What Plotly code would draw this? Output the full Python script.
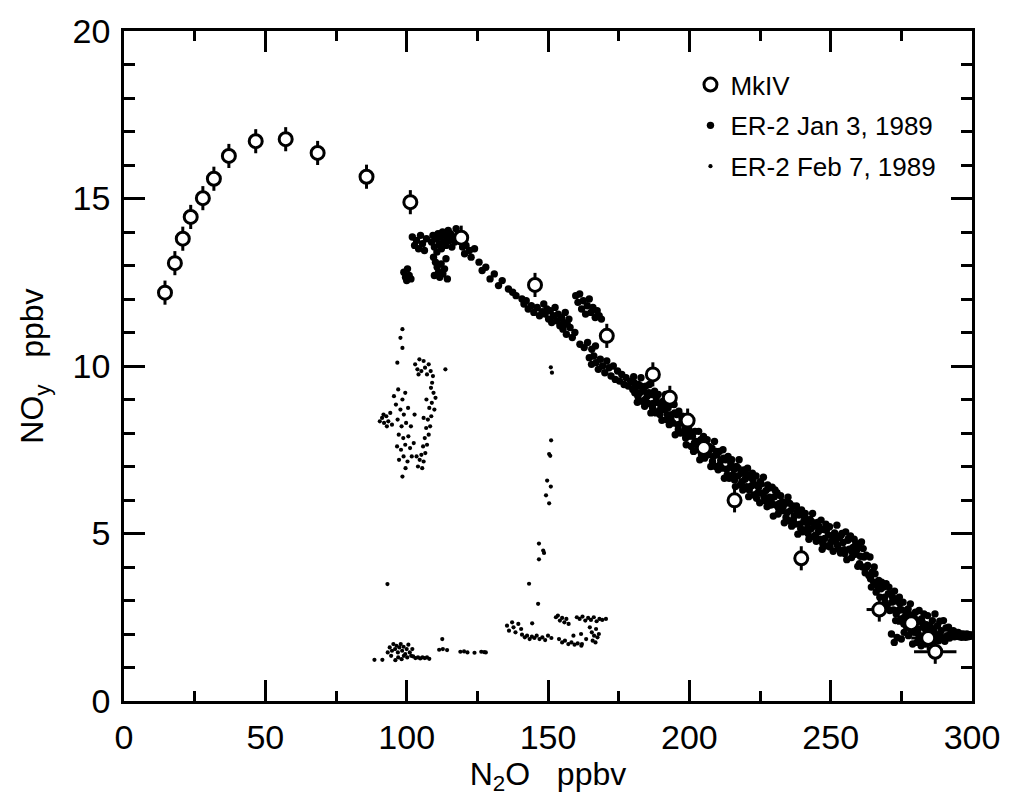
import plotly.graph_objects as go

# ---------------- data ----------------
mkiv_n2o = [14.5, 18.0, 20.8, 23.6, 27.9, 31.8, 37.1, 46.6, 57.2, 68.5, 85.8, 101.3,
            119.3, 145.4, 170.8, 187.1, 193.1, 199.4, 205.1, 216.0, 239.6, 267.2,
            278.5, 284.5, 287.0]
mkiv_noy = [12.19, 13.07, 13.80, 14.45, 15.01, 15.59, 16.27, 16.71, 16.77, 16.36,
            15.65, 14.89, 13.83, 12.42, 10.90, 9.75, 9.05, 8.37, 7.55, 5.99, 4.26,
            2.73, 2.32, 1.88, 1.47]
mkiv_noy_err = [0.36] * 25
mkiv_n2o_err = [0] * 21 + [4.5, 5.0, 6.0, 7.5]

jan3_points = [
    # cluster near 100
    [99.0, 12.8], [99.6, 12.65], [100.3, 12.9], [100.9, 12.7], [101.5, 12.6], [100.0, 12.55],
    # upper cluster 102-121
    [102.0, 13.85], [102.8, 13.6], [103.5, 13.75], [104.2, 13.5], [104.9, 13.9], [105.6, 13.65],
    [106.3, 13.45], [107.0, 13.8], [108.8, 13.7], [109.3, 13.9], [109.8, 13.55], [110.3, 13.8],
    [110.7, 13.4], [111.1, 13.95], [111.5, 13.65], [111.9, 13.85], [112.3, 13.5], [112.7, 14.0],
    [113.1, 13.7], [113.5, 13.9], [113.9, 13.6], [114.3, 13.8], [114.7, 14.05], [115.1, 13.75],
    [115.5, 13.95], [116.0, 13.55], [116.5, 13.85], [117.0, 13.7], [117.5, 14.1], [118.2, 13.95],
    [119.8, 13.55], [120.5, 13.35],
    [109.5, 13.25], [110.2, 13.1], [110.8, 12.95], [111.3, 12.8], [111.7, 12.65], [112.2, 13.05],
    [112.8, 12.75], [113.4, 12.9], [113.9, 13.2], [114.4, 12.6], [109.8, 12.7],
    # 120-140
    [121.0, 13.6], [122.2, 13.45], [122.8, 13.25], [124.0, 13.5], [125.6, 13.1],
    [126.7, 12.85], [128.0, 12.95], [129.5, 12.6], [131.0, 12.75], [132.5, 12.4], [133.8, 12.55],
    [136.0, 12.3], [137.5, 12.2], [138.7, 12.1],
    # 140-170
    [140.8, 12.0], [141.5, 11.85], [142.3, 11.95], [143.0, 11.7], [144.1, 11.8], [145.0, 11.6],
    [146.2, 11.75], [147.0, 11.5], [147.9, 11.62],
    [148.5, 11.85], [149.0, 11.55], [149.6, 11.7], [150.2, 11.4], [150.8, 11.65], [151.3, 11.3],
    [151.9, 11.5], [152.5, 11.75], [153.1, 11.35], [153.6, 11.55], [154.2, 11.2], [154.8, 11.45],
    [155.5, 11.3], [156.1, 11.6], [156.8, 11.25], [157.4, 11.4],
    [159.8, 12.1], [160.6, 11.9], [161.2, 12.15], [161.9, 11.7], [162.5, 11.95], [163.3, 11.55],
    [163.9, 11.8], [164.6, 12.0], [165.2, 11.6], [165.9, 11.75], [166.7, 11.45], [167.4, 11.65],
    [168.1, 11.5], [168.9, 11.4],
    [155.3, 11.1], [156.5, 10.95], [157.8, 11.15], [158.6, 10.85], [159.5, 11.0],
    [161.3, 10.65], [162.8, 10.55], [164.0, 10.7], [165.5, 10.5], [166.8, 10.6],
    [164.6, 10.25], [165.4, 10.05], [166.2, 10.3], [167.0, 10.1], [167.8, 9.9], [168.5, 10.2],
    [169.3, 10.0], [170.1, 9.8], [170.8, 10.15], [171.6, 9.95], [172.3, 9.7], [173.1, 10.0],
    [173.8, 9.6], [174.6, 9.85], [175.3, 9.55], [176.1, 9.75], [176.9, 9.45], [177.6, 9.65],
    [178.4, 9.4], [179.2, 9.55], [180.0, 9.3], [180.9, 9.45],
    # main band 180-300
    [180.3, 9.68], [180.7, 9.2], [181.2, 9.38], [181.6, 8.92], [182.0, 9.45], [182.5, 9.2],
    [182.9, 9.65], [183.3, 8.95], [183.8, 9.25], [184.2, 8.8], [184.6, 9.4], [185.1, 9.1],
    [185.5, 8.88], [185.9, 9.45], [186.4, 8.6], [186.8, 9.15], [187.2, 8.88], [187.7, 9.25],
    [188.1, 8.6], [188.5, 8.92], [189.0, 9.15], [189.4, 8.67], [189.8, 8.85], [190.3, 8.38],
    [190.7, 8.95], [191.1, 8.7], [191.6, 9.15], [192.0, 8.4], [192.4, 8.75], [192.9, 8.25],
    [193.3, 8.85], [193.7, 8.55], [194.2, 8.3], [194.6, 8.85], [195.0, 7.95], [195.5, 8.55],
    [195.9, 8.25], [196.3, 8.65], [196.8, 8.0], [197.2, 8.3], [197.6, 8.5], [198.1, 8.0],
    [198.5, 8.15], [198.9, 7.65], [199.4, 8.2], [199.8, 7.9], [200.2, 8.3], [200.7, 7.6],
    [201.1, 7.9], [201.5, 7.45], [202.0, 8.05], [202.4, 7.75], [202.8, 7.5], [203.3, 8.05],
    [203.7, 7.2], [204.1, 7.8], [204.6, 7.5], [205.0, 7.9], [205.4, 7.25], [205.9, 7.55],
    [206.3, 7.8], [206.7, 7.35], [207.2, 7.5], [207.6, 7.0], [208.0, 7.55], [208.5, 7.3],
    [208.9, 7.75], [209.3, 7.0], [209.8, 7.35], [210.2, 6.9], [210.6, 7.45], [211.1, 7.18],
    [211.5, 6.95], [211.9, 7.5], [212.4, 6.65], [212.8, 7.2], [213.2, 6.92], [213.7, 7.3],
    [214.1, 6.65], [214.5, 6.98], [215.0, 7.2], [215.4, 6.75], [215.8, 6.92], [216.3, 6.4],
    [216.7, 7.0], [217.1, 6.72], [217.6, 7.2], [218.0, 6.45], [218.4, 6.8], [218.9, 6.3],
    [219.3, 6.9], [219.7, 6.62], [220.2, 6.4], [220.6, 6.95], [221.0, 6.1], [221.5, 6.68],
    [221.9, 6.42], [222.3, 6.8], [222.8, 6.15], [223.2, 6.45], [223.6, 6.72], [224.1, 6.2],
    [224.5, 6.38], [224.9, 5.92], [225.4, 6.48], [225.8, 6.2], [226.2, 6.68], [226.7, 5.98],
    [227.1, 6.28], [227.5, 5.8], [228.0, 6.35], [228.4, 6.08], [228.8, 5.85], [229.3, 6.38],
    [229.7, 5.52], [230.1, 6.1], [230.6, 5.85], [231.0, 6.22], [231.4, 5.58], [231.9, 5.9],
    [232.3, 6.13], [232.7, 5.68], [233.2, 5.8], [233.6, 5.32], [234.0, 5.9], [234.5, 5.62],
    [234.9, 6.08], [235.3, 5.38], [235.8, 5.68], [236.2, 5.22], [236.6, 5.82], [237.1, 5.52],
    [237.5, 5.28], [237.9, 5.82], [238.4, 4.98], [238.8, 5.55], [239.2, 5.28], [239.7, 5.7],
    [240.1, 5.05], [240.5, 5.36], [241.0, 5.6], [241.4, 5.12], [241.8, 5.3], [242.3, 4.83],
    [242.7, 5.42], [243.1, 5.14], [243.6, 5.6], [244.0, 4.9], [244.4, 5.22], [244.9, 4.77],
    [245.3, 5.33], [245.7, 5.06], [246.2, 4.83], [246.6, 5.4], [247.0, 4.53], [247.5, 5.12],
    [247.9, 4.85], [248.3, 5.28], [248.8, 4.63], [249.2, 4.95], [249.6, 5.2], [250.1, 4.75],
    [250.5, 4.93], [250.9, 4.47], [251.4, 5.02], [251.8, 4.76], [252.2, 5.25], [252.7, 4.55],
    [253.1, 4.88], [253.5, 4.42], [254.0, 5.0], [254.4, 4.73], [254.8, 4.52], [255.3, 5.05],
    [255.7, 4.22], [256.1, 4.8], [256.6, 4.53], [257.0, 4.93], [257.4, 4.28], [257.9, 4.58],
    [258.3, 4.83], [258.7, 4.38], [259.2, 4.5], [259.6, 4.02], [260.0, 4.6], [260.5, 4.32],
    [260.9, 4.75], [261.3, 4.0], [261.8, 4.3], [262.2, 3.83], [262.6, 4.35], [263.1, 4.05],
    [263.5, 3.75], [263.9, 4.3], [264.4, 3.4], [264.8, 3.85], [265.2, 3.55], [265.7, 3.8],
    [266.1, 3.25], [266.5, 3.5], [267.0, 3.6], [267.4, 3.1], [267.8, 3.35], [268.3, 2.85],
    [268.7, 3.4], [269.1, 3.1], [269.6, 3.5], [270.0, 2.85], [270.4, 3.2], [270.9, 2.7],
    [271.3, 3.2], [271.7, 2.95], [272.2, 2.72], [272.6, 3.28], [273.0, 2.4], [273.5, 2.98],
    [273.9, 2.7], [274.3, 3.1], [274.8, 2.45], [275.2, 2.72], [275.6, 2.95], [276.1, 2.5],
    [276.5, 2.68], [276.9, 2.2], [277.4, 2.75], [277.8, 2.45], [278.2, 2.9], [278.7, 2.22],
    [279.1, 2.55], [279.5, 2.05], [280.0, 2.65], [280.4, 2.38], [280.8, 2.15], [281.3, 2.7],
    [281.7, 1.85], [282.1, 2.45], [282.6, 2.2], [283.0, 2.6], [283.4, 1.95], [283.9, 2.28],
    [284.3, 2.55], [284.7, 2.1], [285.2, 2.25], [285.6, 1.8], [286.0, 2.4], [286.5, 2.15],
    [286.9, 2.6], [287.3, 1.93], [287.8, 2.25], [288.2, 1.8], [288.6, 2.38], [289.1, 2.1],
    [289.5, 1.88], [289.9, 2.4], [290.4, 1.78], [290.8, 2.18], [291.2, 1.95], [291.7, 2.2],
    [292.1, 1.88], [292.5, 2.05], [293.0, 1.98], [293.4, 2.1], [293.8, 1.92], [294.3, 2.05],
    [294.7, 1.93], [295.1, 2.05], [295.6, 1.92], [296.0, 2.0], [296.4, 1.9], [296.9, 2.0],
    [297.3, 1.95], [297.7, 1.9], [298.2, 2.0], [298.6, 1.92], [299.0, 1.98], [299.4, 1.93],
    [299.8, 1.97],
    [271.5, 2.0], [272.5, 1.75], [273.5, 1.9], [275.0, 1.85], [276.0, 2.05], [277.5, 1.95],
    [279.0, 1.7], [280.5, 1.75], [282.0, 1.65], [283.5, 1.7], [285.0, 1.75],
    [180.5, 9.5], [181.8, 9.1], [183.0, 9.4], [184.4, 9.0], [185.7, 9.2], [187.0, 8.75],
    [188.3, 9.05], [189.6, 8.55], [190.9, 8.8], [192.2, 8.55], [193.5, 8.4], [194.8, 8.6],
    [196.1, 8.1], [197.4, 8.45], [198.7, 7.85], [199.9, 8.1],
    [200.5, 7.95], [201.8, 7.7], [203.0, 7.65], [204.3, 7.35], [205.6, 7.65], [206.9, 7.6],
    [208.2, 7.15], [209.5, 7.45], [210.8, 7.05], [212.1, 7.25], [213.4, 6.75], [214.7, 7.1],
    [216.0, 6.6], [217.3, 6.95], [218.6, 6.55], [219.9, 6.8], [221.2, 6.3], [222.5, 6.6],
    [223.8, 6.05], [225.1, 6.55], [226.4, 6.1], [227.7, 6.45], [229.0, 5.95], [230.3, 6.3],
    [231.6, 5.75], [232.9, 5.95], [234.2, 5.48], [235.5, 5.9], [236.8, 5.4], [238.1, 5.65],
    [239.4, 5.15], [240.7, 5.5], [242.0, 5.0], [243.3, 5.35], [244.6, 4.95], [245.9, 5.2],
    [247.2, 4.7], [248.5, 5.1], [249.8, 4.6], [251.1, 4.9], [252.4, 4.65], [253.7, 4.95],
    [255.0, 4.4], [256.3, 4.85], [257.6, 4.45], [258.9, 4.7], [260.2, 4.1], [261.5, 4.55],
    [262.8, 4.0], [264.1, 3.65], [265.4, 4.0], [266.8, 3.4], [268.0, 3.55], [269.3, 2.95],
    [270.6, 3.4], [271.9, 3.1], [273.2, 2.6], [274.5, 2.9], [275.9, 2.3], [277.1, 2.6],
    [278.5, 2.1], [279.8, 2.45], [281.0, 2.0], [282.4, 2.35], [283.7, 2.1], [285.5, 2.1],
    [287.0, 2.0], [288.8, 1.95],
]

feb7_points = [
    # cluster near N2O 90-114, NOy 7-11
    [98.5, 11.1], [97.8, 10.84], [98.5, 10.54], [96.7, 10.1],
    [103.0, 10.05], [103.8, 9.9], [104.5, 10.2], [105.2, 9.85], [106.0, 10.15], [106.5, 9.95],
    [107.2, 9.75], [107.8, 10.05], [108.5, 9.85], [109.3, 9.7], [104.2, 9.75], [113.7, 9.9],
    [90.5, 8.35], [91.3, 8.45], [92.0, 8.3], [92.8, 8.5], [93.5, 8.35], [94.2, 8.6],
    [94.8, 8.25], [93.0, 8.2], [91.8, 8.55],
    [109.5, 9.2], [108.6, 9.35], [110.2, 9.05], [108.9, 8.9], [109.8, 8.7], [108.0, 8.75],
    [108.7, 8.5], [107.5, 8.4], [108.3, 8.2], [106.9, 8.15], [107.8, 7.95], [106.4, 7.85],
    [107.2, 7.65], [105.8, 7.6], [106.6, 7.4], [105.2, 7.35], [106.0, 7.15], [104.6, 7.2],
    [105.5, 6.95], [104.0, 7.0], [103.5, 7.3], [107.0, 9.0], [109.0, 9.5], [106.0, 8.45],
    [95.5, 9.1], [97.0, 9.3], [98.5, 9.0], [99.5, 9.2], [96.2, 8.85], [97.8, 8.7],
    [99.0, 8.55], [100.5, 8.75], [96.8, 8.4], [98.2, 8.2], [99.8, 8.3], [97.2, 7.95],
    [98.8, 7.85], [100.6, 7.9], [96.6, 7.6], [98.0, 7.5], [99.5, 7.65], [101.2, 7.55],
    [97.3, 7.2], [98.9, 7.3], [100.3, 7.15], [101.8, 7.3], [99.6, 6.95], [102.5, 7.7],
    [101.5, 8.2], [102.8, 8.55], [98.5, 6.7],
    # vertical trail near N2O 147-151
    [151.1, 7.78], [150.4, 7.37], [150.8, 7.32], [149.7, 6.58], [151.0, 6.4], [149.3, 6.14],
    [150.4, 5.9], [146.8, 4.7], [148.3, 4.49], [148.6, 4.42], [146.8, 4.23], [143.3, 3.5],
    [146.5, 2.9], [151.0, 9.96], [151.4, 9.8], [93.2, 3.49],
    # low cluster 88-128
    [88.6, 1.23], [91.4, 1.23], [93.3, 1.45], [94.0, 1.6], [94.8, 1.5], [95.3, 1.7],
    [95.9, 1.55], [96.4, 1.65], [96.9, 1.45], [97.4, 1.6], [97.9, 1.7], [98.4, 1.5],
    [98.9, 1.62], [99.5, 1.4], [100.0, 1.55], [100.6, 1.68], [101.1, 1.45], [101.6, 1.35],
    [97.0, 1.3], [98.2, 1.25], [99.0, 1.35], [100.2, 1.3], [102.3, 1.33], [103.1, 1.28],
    [104.0, 1.3], [104.8, 1.27], [105.6, 1.3], [106.4, 1.28], [107.2, 1.3], [108.0, 1.26],
    [94.5, 1.35], [96.0, 1.22], [102.0, 1.55],
    [112.6, 1.85], [111.5, 1.53], [112.8, 1.55], [114.3, 1.52], [119.0, 1.47], [120.3, 1.48],
    [121.5, 1.45], [124.0, 1.44], [126.4, 1.47], [127.4, 1.46], [128.0, 1.45],
    # low cluster 135-171
    [137.3, 2.35], [135.5, 2.25], [136.2, 2.1], [137.8, 2.2], [138.5, 2.05], [139.5, 2.3],
    [140.5, 2.15], [144.4, 2.32], [140.8, 1.98], [141.8, 1.9], [142.6, 1.95], [143.5, 1.85],
    [144.3, 1.92], [145.2, 1.88], [146.0, 1.95], [147.0, 1.85], [148.0, 1.9], [149.0, 1.82],
    [150.0, 1.95], [151.2, 1.88], [152.8, 2.5], [153.5, 2.55], [154.2, 2.4], [155.0, 2.48],
    [155.8, 2.35], [156.5, 2.45], [157.3, 2.3], [153.9, 1.85], [155.0, 1.75], [156.0, 1.8],
    [157.2, 1.7], [158.3, 1.75], [159.4, 1.68], [160.5, 1.72], [161.8, 1.65], [160.2, 2.5],
    [161.2, 2.45], [162.2, 2.52], [163.2, 2.4], [164.2, 2.48], [165.2, 2.42], [166.2, 2.5],
    [167.2, 2.38], [168.2, 2.45], [169.2, 2.42], [170.5, 2.45], [164.8, 2.2], [165.5, 2.05],
    [166.3, 1.95], [167.0, 2.15], [165.8, 1.8], [166.8, 1.75], [167.5, 1.9], [161.7, 2.0],
    [162.0, 1.7], [159.0, 1.95], [163.5, 1.85], [168.0, 2.0],
]

x_ticks = [0, 50, 100, 150, 200, 250, 300]
y_ticks = [0, 5, 10, 15, 20]

jan3_n2o = [p[0] for p in jan3_points]
jan3_noy = [p[1] for p in jan3_points]
feb7_n2o = [p[0] for p in feb7_points]
feb7_noy = [p[1] for p in feb7_points]

FONT = "Liberation Sans, Arial, Helvetica, sans-serif"

fig = go.Figure()

fig.add_trace(go.Scatter(
    x=feb7_n2o, y=feb7_noy, mode="markers", name="ER-2 Feb 7, 1989",
    marker=dict(size=4.2, color="black"), legendgroup="c", legendrank=3))

fig.add_trace(go.Scatter(
    x=jan3_n2o, y=jan3_noy, mode="markers", name="ER-2 Jan 3, 1989",
    marker=dict(size=7.4, color="black"), legendgroup="b", legendrank=2))

# error bars beneath the open circles
fig.add_trace(go.Scatter(
    x=mkiv_n2o, y=mkiv_noy, mode="markers", showlegend=False, hoverinfo="skip",
    marker=dict(size=1, color="rgba(0,0,0,0)"),
    error_y=dict(type="data", array=mkiv_noy_err, color="black", thickness=3, width=0),
    error_x=dict(type="data", array=mkiv_n2o_err, color="black", thickness=3, width=0)))

fig.add_trace(go.Scatter(
    x=mkiv_n2o, y=mkiv_noy, mode="markers", name="MkIV",
    marker=dict(size=13, color="white", line=dict(color="black", width=3)),
    legendgroup="a", legendrank=1))

axis_common = dict(
    showline=True, linecolor="black", linewidth=2.5, mirror="allticks",
    ticks="inside", tickcolor="black", tickwidth=2.5,
    showgrid=False, zeroline=False,
    tickfont=dict(family=FONT, size=34, color="black"),
)

fig.update_xaxes(
    range=[0, 300], tickvals=x_ticks, ticklen=21,
    minor=dict(dtick=25, tick0=0, ticks="inside", ticklen=10, tickwidth=2.5, tickcolor="black", showgrid=False),
    title=dict(text="N<sub>2</sub>O\u00a0\u00a0\u00a0ppbv", font=dict(family=FONT, size=32, color="black"), standoff=6),
    ticklabelstandoff=4,
    **axis_common)

fig.update_yaxes(
    range=[0, 20], tickvals=y_ticks, ticklen=21,
    minor=dict(dtick=1, tick0=0, ticks="inside", ticklen=11, tickwidth=2.5, tickcolor="black", showgrid=False),
    title=dict(text="NO<sub>y</sub>\u00a0\u00a0\u00a0ppbv", font=dict(family=FONT, size=32, color="black"), standoff=20),
    ticklabelstandoff=4,
    **axis_common)

fig.update_layout(
    width=1012, height=807,
    margin=dict(l=124, r=38, t=20, b=106),
    paper_bgcolor="white", plot_bgcolor="white",
    font=dict(family=FONT, color="black"),
    legend=dict(x=0.668, y=0.955, xanchor="left", yanchor="top",
                bgcolor="rgba(0,0,0,0)", borderwidth=0,
                font=dict(family=FONT, size=26, color="black"),
                tracegroupgap=4, itemsizing="trace"),
    showlegend=True,
)

fig.write_html("out.html")
